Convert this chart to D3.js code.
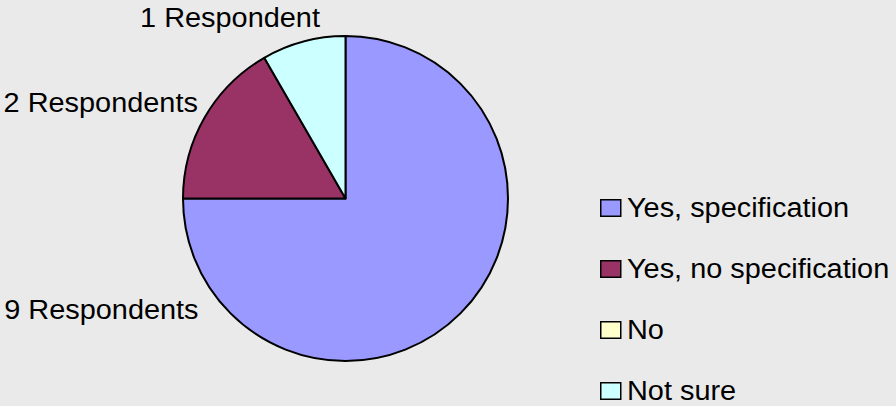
<!DOCTYPE html>
<html>
<head>
<meta charset="utf-8">
<script src="https://cdn.jsdelivr.net/npm/d3@7/dist/d3.min.js"></script>
<style>
  html, body { margin: 0; padding: 0; background: #eaeaea; }
  svg { display: block; }
  text { font-family: "Liberation Sans", Arial, sans-serif; fill: #000; }
</style>
</head>
<body>
<div id="chart"></div>
<script>
// categories and values (respondents)
const categories = ['Yes, specification', 'Yes, no specification', 'No', 'Not sure'];
const respondents = [9, 2, 0, 1];
const colors = ['#9999ff', '#993366', '#ffffcc', '#ccffff'];

// where each data label sits: angle (deg, clockwise from top), distance, anchor
const labelPlacement = [
  { angle: 233, dist: 184, anchor: 'end' },
  { angle: 303, dist: 176, anchor: 'end' },
  null,
  { angle: 327.5, dist: 215, anchor: 'middle' }
];

const width = 896, height = 406;
const cx = 345.5, cy = 198.5, radius = 162.5;
const fontSize = 27, stretch = 1.07;

const svg = d3.select('#chart').append('svg')
  .attr('width', width)
  .attr('height', height);

svg.append('rect')
  .attr('width', width)
  .attr('height', height)
  .attr('fill', '#eaeaea');

const pie = d3.pie().sort(null).value(d => d)(respondents);
const arc = d3.arc().innerRadius(0).outerRadius(radius);

const g = svg.append('g').attr('transform', `translate(${cx},${cy})`);

g.selectAll('path')
  .data(pie.filter(d => d.value > 0))
  .enter().append('path')
  .attr('d', arc)
  .attr('fill', d => colors[d.index])
  .attr('stroke', '#000')
  .attr('stroke-width', 2)
  .attr('stroke-linejoin', 'round');

// data labels
const label = n => n + (n === 1 ? ' Respondent' : ' Respondents');
pie.forEach(d => {
  const p = labelPlacement[d.index];
  if (!p || d.value === 0) return;
  const a = p.angle * Math.PI / 180;
  const x = cx + Math.sin(a) * p.dist;
  const y = cy - Math.cos(a) * p.dist;
  svg.append('text')
    .attr('transform', `translate(${x},${y}) scale(${stretch},1)`)
    .attr('dy', '0.35em')
    .attr('text-anchor', p.anchor)
    .style('font-size', fontSize + 'px')
    .text(label(d.value));
});

// legend
const legendY = d3.scalePoint()
  .domain(categories)
  .range([217, 400]);

const legend = svg.append('g').selectAll('g')
  .data(categories)
  .enter().append('g')
  .attr('transform', d => `translate(600,${legendY(d)})`);

legend.append('rect')
  .attr('x', 0.75)
  .attr('y', -17.25)
  .attr('width', 20)
  .attr('height', 16.5)
  .attr('fill', (d, i) => colors[i])
  .attr('stroke', '#000')
  .attr('stroke-width', 1.5);

legend.append('text')
  .attr('transform', `translate(27,0) scale(${stretch},1)`)
  .style('font-size', fontSize + 'px')
  .text(d => d);
</script>
</body>
</html>
